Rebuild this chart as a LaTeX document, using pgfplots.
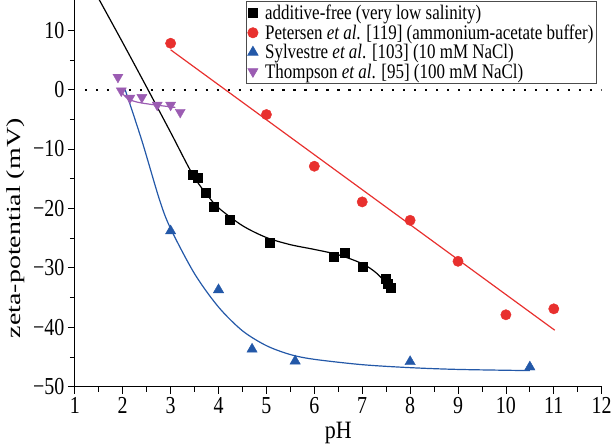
\documentclass[border=0pt]{standalone}
\usepackage{fontspec}
\setmainfont{Liberation Serif}
\usepackage{pgfplots}
\pgfplotsset{compat=1.18}
\definecolor{cred}{RGB}{232,48,46}
\definecolor{cblue}{RGB}{35,88,168}
\definecolor{cpurple}{RGB}{155,92,178}
\newcommand\vs[1]{\scalebox{1}[1.22]{#1}}
\begin{document}
\begin{tikzpicture}
\begin{axis}[
 scale only axis, width=528pt, height=387pt,
 xmin=1, xmax=12, ymin=-50, ymax=15,
 axis lines=left, axis line style={-, line width=1pt},
 xtick={1,...,12}, ytick={-50,-40,...,10},
 xticklabels={\vs{1},\vs{2},\vs{3},\vs{4},\vs{5},\vs{6},\vs{7},\vs{8},\vs{9},\vs{10},\vs{11},\vs{12}},
 yticklabels={\vs{−50},\vs{−40},\vs{−30},\vs{−20},\vs{−10},\vs{0},\vs{10}},
 minor x tick num=1, minor y tick num=1,
 tick align=outside, major tick length=7pt, minor tick length=5pt,
 tick style={black, line width=0.8pt},
 tick label style={font=\fontsize{20}{20}\selectfont},
 label style={font=\fontsize{20}{20}\selectfont},
 xlabel={\scalebox{1.1}[1.25]{pH}}, ylabel={\scalebox{1.4}[1]{zeta-potential (mV)}},
 xlabel style={yshift=-2pt},
 ylabel style={at={(ticklabel cs:0.41)}, anchor=near ticklabel, yshift=2pt},
 legend style={at={(0.9905,0.999)}, anchor=north east, draw=gray!60!black, line width=0.6pt,
   font=\fontsize{17}{19}\selectfont, legend cell align=left, row sep=-0.5pt,
   column sep=5pt, inner ysep=2pt, inner xsep=1pt},
]
\addplot[black, dash pattern={on 2.2pt off 8.8pt}, line width=2.2pt, forget plot] coordinates {(1.21,0) (12,0)};
% fitted curves
\addplot[black, line width=1.2pt, smooth, tension=0.5, forget plot] coordinates {
(1.45,16) (2.0,7.9) (2.5,0.4) (3.0,-7.2) (3.46,-14.3) (3.75,-17.6) (4.0,-19.9) (4.5,-22.9)
(5.0,-24.9) (5.5,-26.1) (6.0,-26.9) (6.5,-27.8) (7.0,-29.3) (7.3,-30.9) (7.6,-33.4)};
\addplot[cred, line width=1.2pt, forget plot] coordinates {(3.0,6.7) (11.02,-40.5)};
\addplot[cblue, line width=1.2pt, smooth, tension=0.5, forget plot] coordinates {
(2.05,0) (2.4,-8.6) (2.77,-18.6) (3.0,-23.4) (3.5,-31) (4.0,-36.6) (4.5,-40.6) (5.0,-43.1)
(5.5,-44.6) (6.0,-45.4) (7.0,-46.3) (8.0,-46.8) (9.0,-47.1) (10.5,-47.3)};
\addplot[cpurple, line width=1.2pt, smooth, tension=0.5, forget plot] coordinates {
(1.97,-0.4) (2.1,-1.5) (2.3,-2.1) (2.6,-2.5) (3.0,-2.9) (3.1,-3.0)};
% data
\addplot[only marks, mark=square*, mark size=4.5pt, black] coordinates {
(3.46,-14.3) (3.57,-14.8) (3.74,-17.4) (3.90,-19.7) (4.23,-21.9) (5.06,-25.7)
(6.40,-28.2) (6.63,-27.5) (7.00,-29.8) (7.49,-31.9) (7.53,-32.6) (7.60,-33.4)};
\addlegendentry{\vs{additive-free (very low salinity)}}
\addplot[only marks, mark=*, mark size=5.2pt, cred, mark options={draw=cred, fill=cred}] coordinates {
(3.0,7.8) (5.0,-4.2) (6.0,-12.9) (7.0,-18.9) (8.0,-22.0) (9.0,-28.9) (10.0,-37.9) (11.0,-36.9)};
\addlegendentry{\vs{Petersen \textit{et al}. [119] (ammonium-acetate buffer)}}
\addplot[only marks, mark=triangle*, mark size=6pt, cblue, mark options={draw=cblue, fill=cblue}] coordinates {
(3.0,-23.8) (4.0,-33.7) (4.7,-43.7) (5.6,-45.7) (8.0,-45.8) (10.5,-46.7)};
\addlegendentry{\vs{Sylvestre \textit{et al}. [103] (10 mM NaCl)}}
\addplot[only marks, mark=triangle*, mark size=5.8pt, cpurple, mark options={draw=cpurple, fill=cpurple, rotate=180}] coordinates {
(1.9,2.1) (1.97,-0.2) (2.15,-1.4) (2.4,-1.3) (2.72,-2.6) (3.0,-2.6) (3.2,-3.8)};
\addlegendentry{\vs{Thompson \textit{et al}. [95] (100 mM NaCl)}}
\end{axis}
\path ([xshift=-75pt,yshift=-61pt]current axis.south west) rectangle ([xshift=12pt]current axis.north east);
\end{tikzpicture}
\end{document}
